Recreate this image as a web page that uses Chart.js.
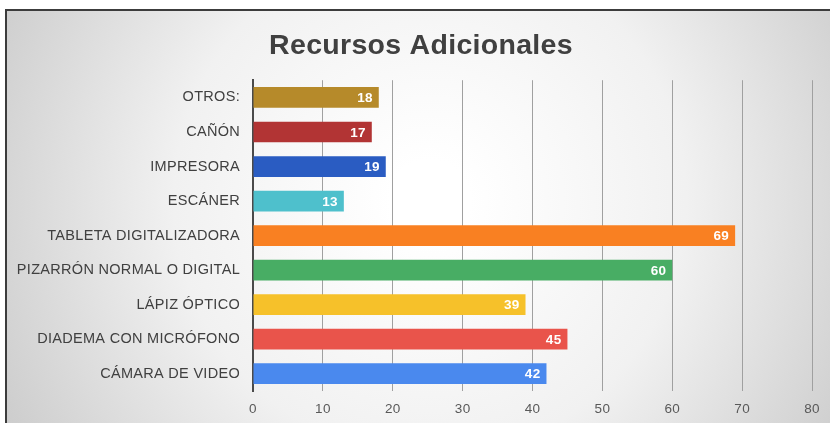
<!DOCTYPE html>
<html>
<head>
<meta charset="utf-8">
<script src="https://cdn.jsdelivr.net/npm/chart.js@4.4.1/dist/chart.umd.min.js"></script>
<style>
  html, body { margin: 0; padding: 0; background: #ffffff; }
  #wrap { width: 830px; height: 423px; }
</style>
</head>
<body>
<div id="wrap"><canvas id="chart" width="830" height="423"></canvas></div>
<script>
const categories = [
  'OTROS:',
  'CAÑÓN',
  'IMPRESORA',
  'ESCÁNER',
  'TABLETA DIGITALIZADORA',
  'PIZARRÓN NORMAL O DIGITAL',
  'LÁPIZ ÓPTICO',
  'DIADEMA CON MICRÓFONO',
  'CÁMARA DE VIDEO'
];
const values = [18, 17, 19, 13, 69, 60, 39, 45, 42];
const barColors = [
  '#b68a2a', '#b23434', '#2a5cc2', '#4ec0cc', '#f98022',
  '#48ad64', '#f6c12a', '#e9544b', '#4a89ee'
];
const xTicks = [0, 10, 20, 30, 40, 50, 60, 70, 80];

const FONT = '"Liberation Sans", Arial, sans-serif';

// Soft radial backdrop with a dark frame on the left and top
const backdrop = {
  id: 'backdrop',
  beforeDraw(chart) {
    const { ctx, width, height } = chart;
    ctx.save();
    ctx.fillStyle = '#ffffff';
    ctx.fillRect(0, 0, width, height);
    const g = ctx.createRadialGradient(430, 200, 40, 430, 200, 520);
    g.addColorStop(0, '#ffffff');
    g.addColorStop(0.45, '#f1f1f1');
    g.addColorStop(1, '#c6c6c6');
    ctx.fillStyle = g;
    ctx.fillRect(7, 11, width - 7, height - 11);
    ctx.strokeStyle = '#3c3c3c';
    ctx.lineWidth = 2;
    ctx.beginPath();
    ctx.moveTo(6, height + 2);
    ctx.lineTo(6, 10);
    ctx.lineTo(width + 2, 10);
    ctx.stroke();
    ctx.restore();
    // a touch of extra tracking for all text drawn afterwards
    ctx.letterSpacing = '0.3px';
  }
};

// Nudge the title block so the heading sits over the plot
const titleShift = {
  id: 'titleShift',
  afterLayout(chart) {
    if (chart.titleBlock) {
      chart.titleBlock.left += 30;
    }
  }
};

// White value labels placed at the inner end of each bar
const valueLabels = {
  id: 'valueLabels',
  afterDatasetsDraw(chart) {
    const { ctx } = chart;
    const meta = chart.getDatasetMeta(0);
    ctx.save();
    ctx.font = 'bold 13.5px ' + FONT;
    ctx.fillStyle = '#ffffff';
    ctx.textAlign = 'right';
    ctx.textBaseline = 'middle';
    meta.data.forEach((bar, i) => {
      ctx.fillText(String(values[i]), bar.x - 6, bar.y + 1);
    });
    ctx.restore();
  }
};

new Chart(document.getElementById('chart'), {
  type: 'bar',
  data: {
    labels: categories,
    datasets: [{
      data: values,
      backgroundColor: barColors,
      borderWidth: 0,
      categoryPercentage: 0.6,
      barPercentage: 1
    }]
  },
  options: {
    indexAxis: 'y',
    responsive: false,
    animation: false,
    devicePixelRatio: 1,
    layout: { padding: { top: 29, right: 18, bottom: 4, left: 0 } },
    plugins: {
      legend: { display: false },
      tooltip: { enabled: false },
      title: {
        display: true,
        text: 'Recursos Adicionales',
        color: '#404040',
        font: { family: FONT, size: 28.5, weight: 'bold' },
        padding: { top: 0, bottom: 17 }
      }
    },
    scales: {
      x: {
        min: 0,
        max: 80,
        afterBuildTicks(scale) {
          scale.ticks = xTicks.map(v => ({ value: v }));
        },
        afterFit(scale) { scale.height = 28; },
        grid: { color: '#a0a0a0', lineWidth: 1, drawTicks: false },
        border: { display: false },
        ticks: {
          color: '#595959',
          font: { family: FONT, size: 13.5 },
          padding: 10
        }
      },
      y: {
        afterFit(scale) { scale.width = 253; },
        grid: { display: false, drawTicks: false },
        border: { display: true, color: '#4a4a4a', width: 2 },
        ticks: {
          color: '#404040',
          font: { family: FONT, size: 14.5 },
          padding: 13
        }
      }
    }
  },
  plugins: [backdrop, titleShift, valueLabels]
});
</script>
</body>
</html>
